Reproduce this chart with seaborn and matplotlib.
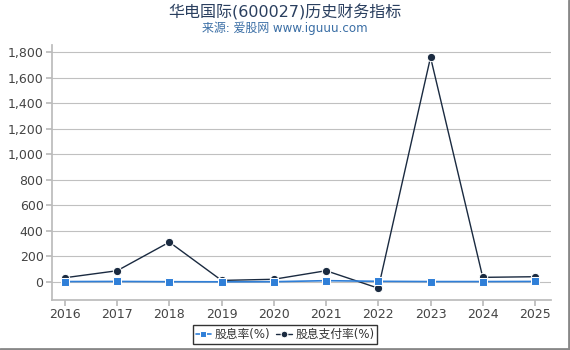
import matplotlib
matplotlib.use("Agg")
import matplotlib.pyplot as plt
import seaborn as sns
import pandas as pd

years = ["2016", "2017", "2018", "2019", "2020", "2021", "2022", "2023", "2024", "2025"]
yield_pct = [3, 4, 2, 1, 2, 10, 5, 3, 3, 4]
payout_pct = [33, 88, 312, 12, 21, 88, -49, 1760, 36, 41]

sns.set_theme(style="white")
plt.rcParams['font.family'] = ['DejaVu Sans', 'Noto Sans CJK SC']

df = pd.DataFrame({"year": years, "股息率(%)": yield_pct, "股息支付率(%)": payout_pct})
df["x"] = range(len(years))

fig = plt.figure(figsize=(5.7, 3.5), dpi=100)
ax = fig.add_axes([0.091, 0.143, 0.876, 0.728])

sns.lineplot(data=df, x="x", y="股息支付率(%)", ax=ax, color="#1a2a40", marker="o",
             markersize=6, linewidth=1, label="股息支付率(%)", zorder=3)
sns.lineplot(data=df, x="x", y="股息率(%)", ax=ax, color="#2f7fd8", marker="s",
             markersize=6, linewidth=1.2, label="股息率(%)", zorder=4)

ax.set_xlim(-0.25, 9.31)
ax.set_ylim(-141, 1855)
ax.set_yticks(range(0, 1801, 200))
ax.set_yticklabels([f"{v:,}" for v in range(0, 1801, 200)], fontsize=9, color="#444444")
ax.set_xticks(df["x"])
ax.set_xticklabels(years, fontsize=9, color="#444444")
ax.set_xlabel("")
ax.set_ylabel("")
ax.grid(axis="y", color="#c0c0c0", linewidth=0.8)
for s in ["top", "right"]:
    ax.spines[s].set_visible(False)
for s in ["left", "bottom"]:
    ax.spines[s].set_color("#bbbbbb")
ax.tick_params(axis="both", length=4, color="#bbbbbb", left=True, bottom=True, pad=2)

handles, labels = ax.get_legend_handles_labels()
order = [labels.index("股息率(%)"), labels.index("股息支付率(%)")]
ax.get_legend().remove()
leg = fig.legend([handles[i] for i in order], [labels[i] for i in order],
                 loc="lower center", bbox_to_anchor=(0.5, 0.0), ncol=2, fontsize=8.5,
                 frameon=True, fancybox=False, handlelength=1.3, handletextpad=0.3,
                 columnspacing=0.5, borderpad=0.25, markerscale=0.8)
leg.get_frame().set_edgecolor("black")
leg.get_frame().set_linewidth(1)
for t in leg.get_texts():
    t.set_color("#333333")

fig.text(0.5, 0.965, "华电国际(600027)历史财务指标", ha="center", va="center", fontsize=11.5, color="#2a3f5f")
fig.text(0.5, 0.918, "来源: 爱股网 www.iguuu.com", ha="center", va="center", fontsize=8.6, color="#3a6ea5")

fig.add_artist(plt.Line2D([0.998, 0.998], [0, 1], transform=fig.transFigure, color="#888888", linewidth=2))
fig.add_artist(plt.Line2D([0, 1], [0.003, 0.003], transform=fig.transFigure, color="#888888", linewidth=2))

fig.savefig("out.png", dpi=100)
